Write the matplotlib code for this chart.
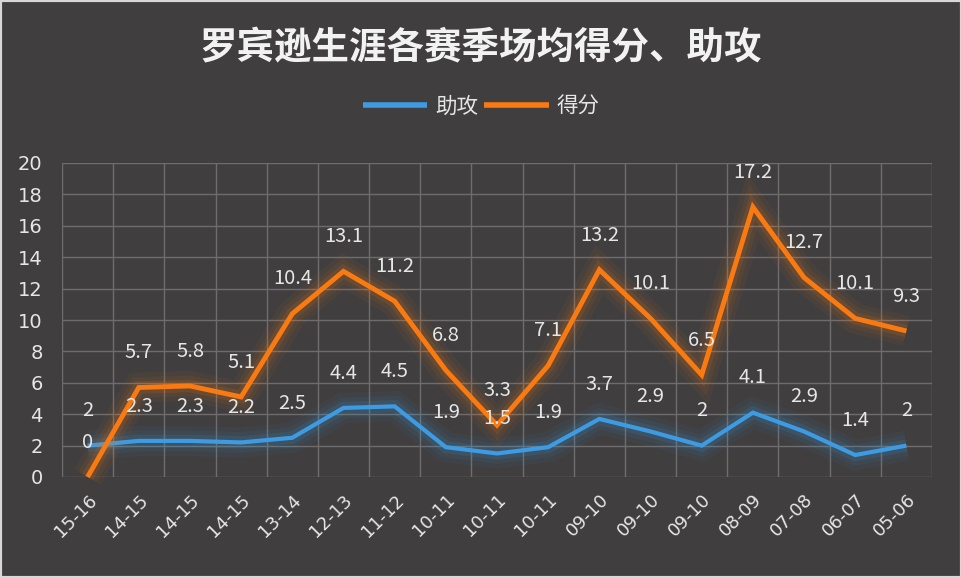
import matplotlib.pyplot as plt
import matplotlib.patheffects as pe
from matplotlib.patches import Rectangle

plt.rcParams['font.family'] = ['Noto Sans CJK SC', 'DejaVu Sans']

# === Data ===
seasons = ["15-16", "14-15", "14-15", "14-15", "13-14", "12-13", "11-12", "10-11", "10-11",
           "10-11", "09-10", "09-10", "09-10", "08-09", "07-08", "06-07", "05-06"]
assists = [2, 2.3, 2.3, 2.2, 2.5, 4.4, 4.5, 1.9, 1.5, 1.9, 3.7, 2.9, 2, 4.1, 2.9, 1.4, 2]
points = [0, 5.7, 5.8, 5.1, 10.4, 13.1, 11.2, 6.8, 3.3, 7.1, 13.2, 10.1, 6.5, 17.2, 12.7, 10.1, 9.3]

bg = '#403e3e'
grid_c = '#6e6c6c'
txt_c = '#e6e6e6'
blue = '#3d9be3'
orange = '#fa7a12'

fig = plt.figure(figsize=(9.62, 5.78), dpi=100, facecolor=bg)
ax = fig.add_axes([62 / 962, 1 - 477 / 578, 870 / 962, 314 / 578])
ax.set_facecolor(bg)

x = list(range(len(seasons)))

def glow(color):
    return [pe.Stroke(linewidth=22, foreground=color, alpha=0.05),
            pe.Stroke(linewidth=15, foreground=color, alpha=0.07),
            pe.Stroke(linewidth=9, foreground=color, alpha=0.12),
            pe.Normal()]

ax.plot(x, assists, color=blue, linewidth=3, label='助攻', zorder=3, clip_on=False,
        path_effects=glow(blue), solid_joinstyle='miter', solid_capstyle='butt')
ax.plot(x, points, color=orange, linewidth=3.5, label='得分', zorder=4, clip_on=False,
        path_effects=glow(orange), solid_joinstyle='miter', solid_capstyle='butt')

for xi, v in zip(x, assists):
    ax.annotate(f"{v:g}", (xi, v), xytext=(0, 25), textcoords='offset points',
                ha='center', va='center', color=txt_c, fontsize=14.5, zorder=5)
for xi, v in zip(x, points):
    ax.annotate(f"{v:g}", (xi, v), xytext=(0, 25), textcoords='offset points',
                ha='center', va='center', color=txt_c, fontsize=14.5, zorder=5)

ax.set_xlim(-0.5, len(seasons) - 0.5)
ax.set_ylim(0, 20)
ax.set_yticks(range(0, 21, 2))
ax.set_xticks(x)
ax.set_xticklabels(seasons, rotation=45, ha='right', rotation_mode='anchor',
                   fontsize=13, color=txt_c, family='DejaVu Sans')
ax.tick_params(axis='y', colors=txt_c, labelsize=14, length=0, pad=14)
ax.tick_params(axis='x', length=0, pad=10)
for lbl in ax.get_yticklabels():
    lbl.set_family('DejaVu Sans')

# gridlines: horizontal at ticks, vertical between categories
for yv in range(0, 21, 2):
    ax.axhline(yv, color=grid_c, linewidth=1, zorder=1)
for xv in [i - 0.5 for i in range(len(seasons) + 1)]:
    ax.axvline(xv, color=grid_c, linewidth=1, zorder=1)
for s in ax.spines.values():
    s.set_visible(False)

fig.text(0.5, 1 - 48 / 578, '罗宾逊生涯各赛季场均得分、助攻', ha='center', va='center',
         color='#f2f2f2', fontsize=27, fontweight='bold')

leg = fig.legend(loc='center', bbox_to_anchor=(0.5, 1 - 107 / 578), ncol=2, frameon=False,
                 fontsize=15.5, handlelength=3.0, columnspacing=0.3, handletextpad=0.35)
for t in leg.get_texts():
    t.set_color(txt_c)
for h in leg.get_lines():
    h.set_linewidth(4)
    h.set_path_effects([])

fig.patches.append(Rectangle((0, 0), 1, 1, transform=fig.transFigure, fill=False,
                             edgecolor='#d8d8d8', linewidth=3))

fig.savefig('out.png', dpi=100, facecolor=bg)
